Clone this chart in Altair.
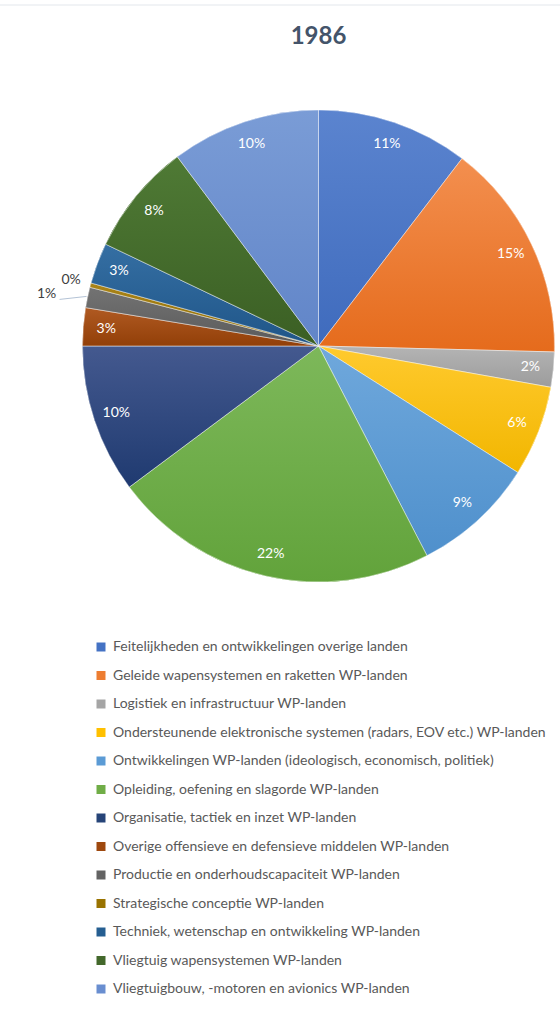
import altair as alt
import pandas as pd

# ---- data ----
categories = [
    "Feitelijkheden en ontwikkelingen overige landen",
    "Geleide wapensystemen en raketten WP-landen",
    "Logistiek en infrastructuur WP-landen",
    "Ondersteunende elektronische systemen (radars, EOV etc.) WP-landen",
    "Ontwikkelingen WP-landen (ideologisch, economisch, politiek)",
    "Opleiding, oefening en slagorde WP-landen",
    "Organisatie, tactiek en inzet WP-landen",
    "Overige offensieve en defensieve middelen WP-landen",
    "Productie en onderhoudscapaciteit WP-landen",
    "Strategische conceptie WP-landen",
    "Techniek, wetenschap en ontwikkeling WP-landen",
    "Vliegtuig wapensystemen WP-landen",
    "Vliegtuigbouw, -motoren en avionics WP-landen",
]
values = [10.4, 15.0, 2.4, 6.2, 8.4, 22.4, 10.2, 2.6, 1.4, 0.3, 2.8, 7.7, 10.2]
labels = ["11%", "15%", "2%", "6%", "9%", "22%", "10%", "3%", "1%", "0%", "3%", "8%", "10%"]
title_text = "1986"

# ---- styles ----
base_colors = ["#4472C4", "#ED7D31", "#A5A5A5", "#FFC000", "#5B9BD5", "#70AD47",
               "#264478", "#9E480E", "#636363", "#997300", "#255E91", "#43682B", "#698ED0"]
light_colors = ["#5b84cf", "#f38f4f", "#b4b4b4", "#ffca2e", "#6fa8dc", "#7db85a",
                "#44598f", "#b05a22", "#737373", "#aa8418", "#356fa3", "#4f7a35", "#7a9cd6"]
dark_colors = ["#3f6bbd", "#e56b1c", "#9c9c9c", "#f2b600", "#4f90cc", "#62a33b",
               "#1f3a70", "#923f08", "#5a5a5a", "#8c6900", "#1f5588", "#3b5f24", "#6185c8"]

CX, CY, R = 318.5, 346, 236
FONT = "Lato"

df = pd.DataFrame({"idx": list(range(len(categories))), "category": categories,
                   "value": values, "label": labels})

base = (
    alt.Chart(df)
    .transform_joinaggregate(total="sum(value)")
    .transform_window(cum="sum(value)", sort=[alt.SortField("idx")])
    .transform_calculate(
        start="(datum.cum - datum.value) / datum.total * 2 * PI",
        end="datum.cum / datum.total * 2 * PI",
    )
    .transform_calculate(mid="(datum.start + datum.end) / 2")
    .transform_calculate(
        ex=f"{CX} + {R} * sin(datum.mid)",
        ey=f"{CY} - {R} * cos(datum.mid)",
    )
)

theta_enc = dict(theta=alt.Theta("start:Q", scale=None), theta2=alt.Theta2("end:Q"))

legend_layer = base.mark_arc(radius=R, x=CX, y=CY, strokeWidth=0).encode(
    color=alt.Color(
        "category:N",
        scale=alt.Scale(domain=categories, range=base_colors),
        legend=alt.Legend(
            title=None, orient="none", legendX=94, legendY=640, direction="vertical",
            symbolType="square", symbolSize=81, symbolStrokeWidth=0,
            labelFont=FONT, labelFontSize=14, labelColor="#595959", labelLimit=600,
            labelOffset=5, rowPadding=14.5, padding=0,
        ),
    ),
    **theta_enc,
)

layers = [legend_layer]
for i, c in enumerate(categories):
    grad = alt.Gradient(
        gradient="linear",
        stops=[alt.GradientStop(color=light_colors[i], offset=0),
               alt.GradientStop(color=dark_colors[i], offset=1)],
        x1=0, x2=0, y1=0, y2=1,
    )
    layers.append(
        base.transform_filter(alt.datum.idx == i)
        .mark_arc(radius=R, x=CX, y=CY, color=grad, stroke="#ffffff", strokeWidth=0.6, strokeOpacity=0.8)
        .encode(**theta_enc)
    )

inside_text = base.transform_filter("datum.value >= 2").mark_text(
    radius=213, x=CX, y=CY, color="white", fontSize=14, font=FONT, baseline="middle"
).encode(theta=alt.Theta("mid:Q", scale=None), text="label:N")

zero_text = base.transform_filter("datum.value < 1").mark_text(
    radius=256, x=CX, y=CY, color="#404040", fontSize=14, font=FONT, baseline="middle"
).encode(theta=alt.Theta("mid:Q", scale=None), text="label:N")

small = base.transform_filter("datum.value >= 1 && datum.value < 2").transform_calculate(
    lx="datum.ex - 41", ly="datum.ey - 3",
    rx1="datum.ex - 1", ry1="datum.ey - 1", rx2="datum.ex - 28", ry2="datum.ey + 2",
)
one_text = small.mark_text(color="#404040", fontSize=14, font=FONT, baseline="middle").encode(
    x=alt.X("lx:Q", scale=None, axis=None), y=alt.Y("ly:Q", scale=None, axis=None), text="label:N"
)
leader = small.mark_rule(color="#b4c3d6", strokeWidth=1).encode(
    x=alt.X("rx1:Q", scale=None, axis=None), x2="rx2:Q",
    y=alt.Y("ry1:Q", scale=None, axis=None), y2="ry2:Q",
)

title = alt.Chart(pd.DataFrame({"t": [title_text]})).mark_text(
    x=CX, y=37, fontSize=24, fontWeight="bold", font=FONT, color="#44546A", baseline="middle"
).encode(text="t:N")

frame = alt.Chart(pd.DataFrame({"t": [0]})).mark_rule(color="#e3e7ec", strokeWidth=1).encode(
    x=alt.value(0), x2=alt.value(560), y=alt.value(5)
)

chart = alt.layer(frame, *layers, inside_text, zero_text, leader, one_text, title).properties(
    width=560, height=1010, autosize=alt.AutoSizeParams(type="none"), padding=0, background="white"
).configure_view(stroke=None)

chart.save("out.html", embed_options={"renderer": "svg", "actions": False})
